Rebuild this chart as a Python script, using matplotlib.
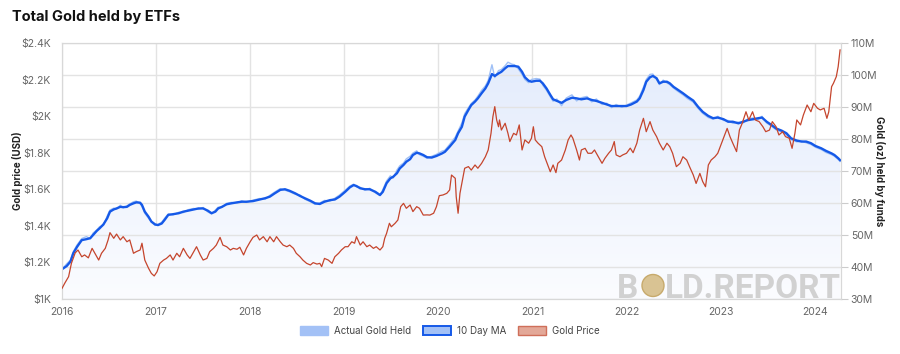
import numpy as np
import matplotlib
matplotlib.use("Agg")
import matplotlib.pyplot as plt
from matplotlib.patches import Patch, Ellipse
from matplotlib.colors import LinearSegmentedColormap

plt.rcParams['font.family'] = ['Inter', 'DejaVu Sans']

# ---------------- data ----------------
price_t = [2016.00, 2016.03, 2016.07, 2016.10, 2016.14, 2016.17, 2016.21, 2016.24, 2016.28, 2016.32,
           2016.35, 2016.39, 2016.42, 2016.46, 2016.49, 2016.51, 2016.55, 2016.58, 2016.62, 2016.65,
           2016.69, 2016.72, 2016.76, 2016.79, 2016.83, 2016.85, 2016.88, 2016.92, 2016.95, 2016.98,
           2017.01, 2017.04, 2017.08, 2017.11, 2017.15, 2017.18, 2017.22, 2017.25, 2017.29, 2017.33,
           2017.36, 2017.40, 2017.43, 2017.47, 2017.50, 2017.54, 2017.57, 2017.61, 2017.64, 2017.68,
           2017.71, 2017.75, 2017.79, 2017.82, 2017.86, 2017.89, 2017.93, 2017.96, 2018.00, 2018.03,
           2018.07, 2018.10, 2018.14, 2018.18, 2018.21, 2018.25, 2018.28, 2018.32, 2018.35, 2018.39,
           2018.42, 2018.46, 2018.49, 2018.53, 2018.56, 2018.60, 2018.64, 2018.67, 2018.71, 2018.74,
           2018.76, 2018.79, 2018.83, 2018.87, 2018.90, 2018.94, 2018.97, 2019.01, 2019.04, 2019.08,
           2019.11, 2019.13, 2019.17, 2019.20, 2019.24, 2019.27, 2019.31, 2019.34, 2019.38, 2019.41,
           2019.43, 2019.45, 2019.48, 2019.50, 2019.54, 2019.57, 2019.60, 2019.63, 2019.66, 2019.70,
           2019.73, 2019.77, 2019.80, 2019.84, 2019.88, 2019.91, 2019.95, 2019.98, 2020.01, 2020.05,
           2020.09, 2020.12, 2020.14, 2020.18, 2020.19, 2020.21, 2020.23, 2020.25, 2020.28, 2020.32,
           2020.35, 2020.39, 2020.42, 2020.46, 2020.50, 2020.53, 2020.56, 2020.58, 2020.60, 2020.62,
           2020.64, 2020.65, 2020.67, 2020.71, 2020.74, 2020.76, 2020.80, 2020.83, 2020.86, 2020.89,
           2020.92, 2020.96, 2020.99, 2021.01, 2021.03, 2021.06, 2021.10, 2021.13, 2021.17, 2021.19,
           2021.22, 2021.25, 2021.27, 2021.31, 2021.35, 2021.38, 2021.41, 2021.43, 2021.47, 2021.50,
           2021.52, 2021.56, 2021.59, 2021.63, 2021.66, 2021.70, 2021.74, 2021.77, 2021.81, 2021.84,
           2021.87, 2021.89, 2021.93, 2021.96, 2022.00, 2022.04, 2022.07, 2022.11, 2022.14, 2022.18,
           2022.21, 2022.25, 2022.28, 2022.32, 2022.35, 2022.39, 2022.43, 2022.46, 2022.49, 2022.53,
           2022.57, 2022.60, 2022.64, 2022.67, 2022.71, 2022.74, 2022.78, 2022.81, 2022.84, 2022.87,
           2022.90, 2022.94, 2022.97, 2023.01, 2023.05, 2023.07, 2023.10, 2023.13, 2023.17, 2023.20,
           2023.23, 2023.27, 2023.30, 2023.34, 2023.37, 2023.41, 2023.45, 2023.48, 2023.52, 2023.55,
           2023.59, 2023.62, 2023.66, 2023.69, 2023.73, 2023.76, 2023.79, 2023.81, 2023.85, 2023.88,
           2023.92, 2023.96, 2023.99, 2024.03, 2024.06, 2024.10, 2024.13, 2024.15, 2024.18, 2024.20,
           2024.23, 2024.25, 2024.27]
price = [1058, 1087, 1122, 1195, 1252, 1268, 1231, 1241, 1225, 1277,
         1250, 1213, 1250, 1277, 1323, 1363, 1332, 1355, 1323, 1341,
         1313, 1323, 1250, 1259, 1268, 1305, 1213, 1168, 1140, 1126,
         1149, 1195, 1213, 1222, 1241, 1213, 1250, 1231, 1277, 1241,
         1222, 1259, 1286, 1241, 1213, 1222, 1259, 1277, 1295, 1337,
         1295, 1286, 1268, 1277, 1272, 1283, 1241, 1277, 1313, 1337,
         1350, 1323, 1341, 1313, 1341, 1313, 1341, 1313, 1295, 1286,
         1295, 1277, 1250, 1231, 1213, 1195, 1186, 1199, 1191, 1195,
         1177, 1222, 1213, 1195, 1231, 1250, 1268, 1286, 1286, 1313,
         1305, 1341, 1295, 1313, 1286, 1295, 1277, 1286, 1268, 1286,
         1332, 1359, 1414, 1395, 1414, 1432, 1505, 1523, 1496, 1514,
         1478, 1505, 1496, 1459, 1460, 1459, 1469, 1505, 1565, 1569,
         1578, 1596, 1678, 1660, 1560, 1469, 1578, 1632, 1715, 1724,
         1705, 1733, 1715, 1742, 1778, 1815, 1906, 1997, 2052, 1979,
         1942, 1979, 1924, 1961, 1906, 1861, 1906, 1897, 1952, 1815,
         1870, 1852, 1879, 1942, 1870, 1852, 1833, 1778, 1724, 1696,
         1733, 1691, 1742, 1760, 1815, 1870, 1897, 1879, 1815, 1760,
         1815, 1824, 1797, 1797, 1815, 1778, 1742, 1769, 1797, 1815,
         1861, 1788, 1778, 1788, 1797, 1825, 1800, 1852, 1924, 1988,
         1915, 1970, 1924, 1888, 1852, 1815, 1852, 1833, 1797, 1724,
         1742, 1778, 1760, 1724, 1678, 1632, 1687, 1642, 1614, 1733,
         1760, 1778, 1797, 1852, 1906, 1933, 1888, 1852, 1806, 1924,
         1961, 2024, 1979, 2024, 1979, 1970, 1942, 1915, 1924, 1970,
         1942, 1897, 1915, 1888, 1879, 1824, 1906, 1979, 1952, 2006,
         2061, 2024, 2070, 2043, 2034, 2043, 1988, 2024, 2161, 2180,
         2216, 2271, 2362]

held_t = [2016.00, 2016.05, 2016.09, 2016.12, 2016.16, 2016.21, 2016.26, 2016.30, 2016.33, 2016.37,
          2016.40, 2016.44, 2016.48, 2016.51, 2016.55, 2016.58, 2016.62, 2016.65, 2016.69, 2016.72,
          2016.76, 2016.79, 2016.83, 2016.85, 2016.88, 2016.92, 2016.95, 2016.99, 2017.02, 2017.06,
          2017.09, 2017.13, 2017.18, 2017.24, 2017.29, 2017.34, 2017.40, 2017.45, 2017.50, 2017.55,
          2017.59, 2017.63, 2017.66, 2017.70, 2017.75, 2017.80, 2017.86, 2017.91, 2017.96, 2018.03,
          2018.10, 2018.16, 2018.21, 2018.26, 2018.32, 2018.37, 2018.42, 2018.48, 2018.53, 2018.58,
          2018.64, 2018.69, 2018.74, 2018.79, 2018.85, 2018.90, 2018.95, 2019.01, 2019.06, 2019.10,
          2019.13, 2019.17, 2019.22, 2019.27, 2019.33, 2019.38, 2019.41, 2019.45, 2019.49, 2019.52,
          2019.56, 2019.59, 2019.63, 2019.66, 2019.70, 2019.73, 2019.77, 2019.80, 2019.84, 2019.88,
          2019.93, 2019.98, 2020.04, 2020.07, 2020.12, 2020.18, 2020.21, 2020.25, 2020.28, 2020.32,
          2020.35, 2020.39, 2020.42, 2020.46, 2020.50, 2020.53, 2020.57, 2020.60, 2020.64, 2020.67,
          2020.71, 2020.74, 2020.78, 2020.81, 2020.85, 2020.89, 2020.92, 2020.96, 2020.99, 2021.04,
          2021.08, 2021.11, 2021.15, 2021.19, 2021.22, 2021.26, 2021.31, 2021.36, 2021.42, 2021.47,
          2021.52, 2021.58, 2021.63, 2021.68, 2021.74, 2021.79, 2021.84, 2021.89, 2021.95, 2022.00,
          2022.05, 2022.11, 2022.14, 2022.18, 2022.21, 2022.25, 2022.28, 2022.32, 2022.35, 2022.39,
          2022.43, 2022.46, 2022.50, 2022.55, 2022.60, 2022.65, 2022.71, 2022.76, 2022.81, 2022.87,
          2022.92, 2022.97, 2023.03, 2023.08, 2023.13, 2023.19, 2023.24, 2023.29, 2023.35, 2023.40,
          2023.44, 2023.49, 2023.54, 2023.59, 2023.65, 2023.70, 2023.75, 2023.81, 2023.86, 2023.91,
          2023.96, 2024.01, 2024.07, 2024.12, 2024.18, 2024.21, 2024.25, 2024.27]
held_ma = [39.3, 40.3, 41.7, 44.3, 46.3, 48.4, 48.7, 49.0, 50.0, 51.3,
           52.1, 53.3, 55.2, 57.3, 58.0, 58.3, 58.8, 58.7, 58.8, 59.4,
           59.9, 60.2, 60.1, 59.4, 57.3, 55.7, 54.2, 53.3, 53.1, 53.6,
           54.7, 56.3, 56.5, 56.8, 57.3, 57.6, 58.0, 58.3, 58.3, 57.6,
           56.8, 57.3, 58.3, 58.8, 59.6, 59.9, 60.2, 60.4, 60.4, 60.6,
           61.1, 61.5, 62.0, 63.0, 64.1, 64.3, 63.8, 63.0, 62.2, 61.5,
           60.7, 59.9, 59.7, 60.4, 60.9, 61.1, 62.0, 63.5, 64.9, 65.6,
           65.3, 64.6, 64.3, 64.3, 63.5, 62.5, 63.5, 66.2, 67.7, 68.2,
           69.3, 70.8, 71.9, 72.9, 73.7, 75.0, 75.7, 75.5, 75.0, 74.3,
           74.2, 74.7, 75.5, 76.0, 77.6, 79.7, 81.8, 83.8, 87.0, 89.1,
           90.6, 91.7, 92.7, 94.3, 95.8, 97.4, 100.3, 99.7, 100.5, 101.0,
           102.1, 102.8, 102.8, 102.8, 102.6, 101.0, 99.3, 98.2, 97.9, 98.2,
           98.2, 97.4, 95.8, 93.8, 92.4, 91.9, 91.3, 92.2, 92.9, 92.7,
           92.4, 92.7, 92.2, 91.9, 91.3, 90.8, 90.3, 90.3, 90.3, 90.3,
           90.8, 91.7, 92.7, 95.3, 97.9, 99.3, 99.7, 99.0, 97.4, 97.9,
           97.9, 97.4, 96.3, 95.3, 94.3, 93.2, 92.0, 90.1, 88.5, 87.2,
           86.5, 86.7, 86.2, 85.4, 85.4, 84.9, 85.4, 85.9, 86.2, 86.5,
           86.7, 85.4, 84.4, 83.3, 82.6, 81.8, 80.2, 79.5, 79.2, 79.2,
           78.7, 77.8, 77.1, 76.3, 75.5, 75.0, 74.0, 73.4]
held_actual = [39.3, 41.0, 42.2, 44.8, 46.9, 48.9, 49.5, 48.8, 50.6, 51.6,
               52.6, 53.0, 55.9, 57.8, 58.4, 58.1, 59.3, 58.5, 59.1, 59.7,
               60.4, 60.6, 59.8, 58.9, 56.8, 55.2, 54.0, 53.0, 53.3, 54.0,
               55.2, 56.6, 56.3, 57.1, 57.0, 57.9, 58.3, 58.0, 58.6, 57.2,
               56.6, 57.8, 58.7, 58.6, 59.9, 60.2, 60.0, 60.7, 60.2, 60.9,
               61.4, 61.2, 62.4, 63.4, 64.5, 64.0, 63.5, 62.7, 62.5, 61.2,
               60.4, 59.6, 60.0, 60.8, 60.6, 61.5, 62.5, 64.0, 65.3, 65.9,
               65.0, 64.9, 64.0, 64.6, 63.2, 62.3, 64.2, 66.9, 68.5, 67.8,
               70.3, 71.6, 72.5, 73.8, 74.6, 75.6, 76.3, 75.1, 74.6, 74.0,
               74.6, 75.2, 76.2, 76.5, 78.3, 80.6, 82.5, 85.0, 87.9, 89.8,
               91.1, 92.2, 93.4, 95.2, 96.6, 98.3, 103.2, 99.2, 101.4, 101.7,
               102.9, 104.0, 103.4, 103.2, 101.9, 100.2, 98.6, 97.6, 98.6, 98.9,
               98.7, 96.8, 95.2, 93.2, 91.8, 92.5, 90.4, 92.8, 93.8, 91.9,
               92.9, 93.3, 91.6, 92.5, 90.8, 91.2, 89.8, 90.8, 89.9, 90.6,
               91.3, 92.2, 93.4, 96.2, 98.6, 100.2, 100.3, 98.5, 97.0, 98.4,
               97.5, 97.0, 95.9, 94.8, 93.8, 92.6, 91.5, 89.6, 88.0, 86.7,
               86.2, 87.1, 85.8, 85.8, 84.9, 85.3, 85.0, 86.3, 86.6, 86.1,
               87.1, 85.0, 84.0, 82.9, 82.2, 81.3, 79.8, 79.1, 79.4, 78.8,
               78.3, 77.4, 76.7, 75.8, 75.1, 74.6, 73.6, 73.0]

year_ticks = [2016, 2017, 2018, 2019, 2020, 2021, 2022, 2023, 2024]
price_ticks = [1000, 1200, 1400, 1600, 1800, 2000, 2200, 2400]
price_labels = ['$1K', '$1.2K', '$1.4K', '$1.6K', '$1.8K', '$2K', '$2.2K', '$2.4K']
held_ticks = [30, 40, 50, 60, 70, 80, 90, 100, 110]
held_labels = ['30M', '40M', '50M', '60M', '70M', '80M', '90M', '100M', '110M']

# ---------------- figure ----------------
W, H = 900, 354
fig = plt.figure(figsize=(W / 100, H / 100), dpi=100)
fig.patch.set_facecolor('white')

ax = fig.add_axes([62 / W, 55 / H, 779 / W, 256 / H])   # price axis (left)
ax2 = ax.twinx()                                         # holdings axis (right)
ax.set_zorder(ax2.get_zorder() + 1)
ax.patch.set_visible(False)

xmin, xmax = 2016.0, 2024.28
grid_c = '#e3e3e3'
tick_c = '#666666'

# holdings axis: grid, gradient fill, lines
poly = ax2.fill_between(held_t, held_ma, 30, facecolor='none', edgecolor='none')
cmap = LinearSegmentedColormap.from_list('g', ['#fbfcff', '#e4ecfc'])
grad = np.linspace(0, 1, 256).reshape(-1, 1)
img = ax2.imshow(grad, extent=[xmin, xmax, 30, 104], origin='lower', aspect='auto',
                 cmap=cmap, zorder=0.5, interpolation='bilinear')
img.set_clip_path(poly.get_paths()[0], transform=ax2.transData)
ax2.set_xlim(xmin, xmax)
ax2.set_ylim(30, 110)
ax2.plot(held_t, held_actual, color='#9fc0f6', lw=1.0, zorder=2)
ax2.plot(held_t, held_ma, color='#1559e8', lw=1.7, zorder=3, solid_joinstyle='round')

ax2.set_yticks(held_ticks)
ax2.set_yticklabels(held_labels)
ax2.yaxis.grid(True, color=grid_c, lw=1.0)
ax2.set_axisbelow(True)
for yr in year_ticks:
    ax2.axvline(yr, color=grid_c, lw=1.0, zorder=0.3)
ax2.tick_params(axis='y', colors=tick_c, labelsize=7.5, length=5, width=0.8, color='#cccccc', pad=2)
ax2.set_ylabel('Gold (oz) held by funds', rotation=270, fontsize=7, fontweight='bold',
               color='#222222', va='center')
ax2.yaxis.set_label_coords((880 - 62) / 779, 0.5)

# price axis
ax.set_xlim(xmin, xmax)
ax.set_ylim(1000, 2400)
ax.plot(price_t, price, color='#c5452d', lw=0.9, zorder=4)
ax.set_yticks(price_ticks)
ax.set_yticklabels(price_labels)
ax.set_xticks(year_ticks)
ax.set_xticklabels([str(y) for y in year_ticks])
ax.tick_params(axis='y', colors=tick_c, labelsize=7.5, length=0, pad=8)
ax.tick_params(axis='x', colors=tick_c, labelsize=7.5, length=0, pad=6)
ax.set_ylabel('Gold price (USD)', fontsize=7, fontweight='bold', color='#222222', va='center')
ax.yaxis.set_label_coords((18 - 62) / 779, 0.5)

for a in (ax, ax2):
    for s in a.spines.values():
        s.set_color('#d8d8d8')
        s.set_linewidth(0.8)

# title
fig.text(12 / W, 1 - 17 / H, 'Total Gold held by ETFs', fontsize=10.5, fontweight='bold',
         color='#111111', va='center', ha='left')

# legend
handles = [Patch(facecolor='#a3c1f6', edgecolor='#a3c1f6', lw=1.0, label='Actual Gold Held'),
           Patch(facecolor='#a3c1f6', edgecolor='#1559e8', lw=1.4, label='10 Day MA'),
           Patch(facecolor='#e3a898', edgecolor='#cf6f5a', lw=1.0, label='Gold Price')]
leg = fig.legend(handles=handles, loc='center', bbox_to_anchor=(0.5, 1 - 331 / H), ncol=3,
                 frameon=False, fontsize=7, handlelength=2.9, handleheight=0.95,
                 columnspacing=1.2, handletextpad=0.6)
for t in leg.get_texts():
    t.set_color('#444444')

# watermark
wm_c = '#cdcdcd'
fig.text(617 / W, 1 - 298 / H, 'B', fontsize=24, fontweight='bold', color=wm_c,
         alpha=0.9, ha='left', va='baseline', zorder=10, family='Roboto')
fig.text(665 / W, 1 - 298 / H, 'LD.REPORT', fontsize=24, fontweight='bold', color=wm_c,
         alpha=0.9, ha='left', va='baseline', zorder=10, family='Roboto')
coin = Ellipse((653 / W, 1 - 285.5 / H), 22 / W, 22 / H, transform=fig.transFigure,
               facecolor='#d9c393', edgecolor='#c7aa6c', lw=1.0, zorder=11)
fig.add_artist(coin)

fig.savefig('out.png', dpi=100)
